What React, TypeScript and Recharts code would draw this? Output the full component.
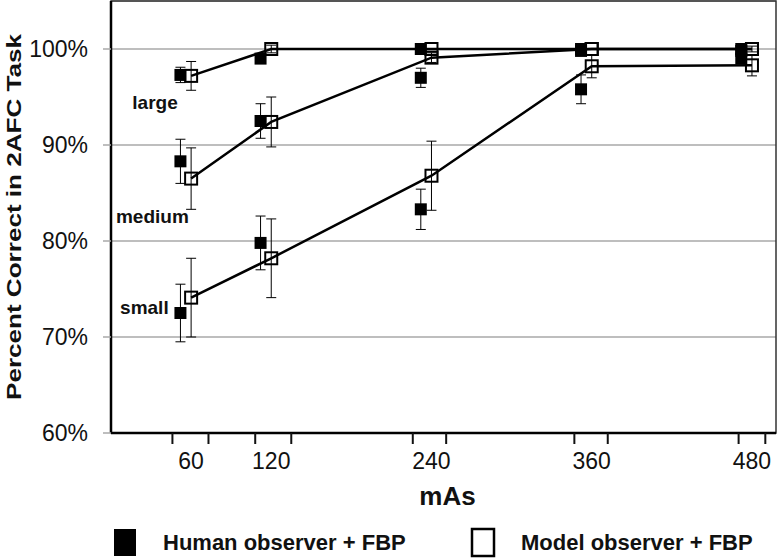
import React from "react";
import {
  CartesianGrid,
  ErrorBar,
  Label,
  ReferenceArea,
  ReferenceDot,
  Scatter,
  ScatterChart,
  XAxis,
  YAxis,
} from "recharts";

// exposure levels (mAs)
const mAs = [60, 120, 240, 360, 480];

// human observer + FBP, percent correct
const humanLarge = [97.3, 99.0, 100, 100, 100];
const humanMedium = [88.3, 92.5, 97.0, 99.8, 99.8];
const humanSmall = [72.5, 79.8, 83.3, 95.8, 99.0];
const humanErrLarge = [0.8, 0.3, 0, 0, 0];
const humanErrMedium = [2.3, 1.8, 1.0, 0, 0];
const humanErrSmall = [3.0, 2.8, 2.1, 1.5, 0.4];

// model observer + FBP, percent correct
const modelLarge = [97.2, 100, 100, 100, 100];
const modelMedium = [86.5, 92.4, 99.1, 100, 100];
const modelSmall = [74.1, 78.2, 86.8, 98.2, 98.3];
const modelErrLarge = [1.5, 0.4, 0, 0, 0.3];
const modelErrMedium = [3.2, 2.6, 0.5, 0, 0];
const modelErrSmall = [4.1, 4.1, 3.6, 1.2, 1.1];

const xLabelTicks = [60, 120, 240, 360, 480];
const xTickMarks = [46, 73, 108, 135, 226, 251, 347, 372, 470, 490];
const yTicks = [60, 70, 80, 90, 100];

const groupNames = ["large", "medium", "small"];
const groupNameX = [33, 31, 25];
const groupNameY = [94.5, 82.6, 73.1];

const legendItems = [
  { label: "Human observer + FBP", filled: true },
  { label: "Model observer + FBP", filled: false },
];

// human markers are drawn slightly left of the model markers
const HUMAN_SHIFT = -8;
const FONT = "'Liberation Sans', Arial, Helvetica, sans-serif";

const rows = (ys: number[], errs: number[], shift = 0) =>
  mAs.map((m, i) => ({ x: m + shift, y: ys[i], err: errs[i] || undefined }));

const humanSeries = [
  rows(humanLarge, humanErrLarge, HUMAN_SHIFT),
  rows(humanMedium, humanErrMedium, HUMAN_SHIFT),
  rows(humanSmall, humanErrSmall, HUMAN_SHIFT),
];
const modelSeries = [
  rows(modelLarge, modelErrLarge),
  rows(modelMedium, modelErrMedium),
  rows(modelSmall, modelErrSmall),
];

const allXTicks = [...xLabelTicks, ...xTickMarks].sort((a, b) => a - b);

function FilledSquare(props: any) {
  const { cx, cy } = props;
  return <rect x={cx - 6} y={cy - 6} width={12} height={12} fill="#000" />;
}

function OpenSquare(props: any) {
  const { cx, cy } = props;
  return (
    <rect x={cx - 6} y={cy - 6} width={12} height={12} fill="none" stroke="#000" strokeWidth={2} />
  );
}

function XTick(props: any) {
  const { x, y, payload } = props;
  const v = payload.value;
  if (xLabelTicks.includes(v)) {
    return (
      <text x={x} y={y + 20} dy="0.71em" textAnchor="middle" fontSize={23} fill="#111" fontFamily={FONT}>
        {v}
      </text>
    );
  }
  return <line x1={x} x2={x} y1={y} y2={y + 11} stroke="#111" strokeWidth={2} />;
}

export default function App() {
  return (
    <div style={{ position: "absolute", left: 0, top: 0, width: 780, height: 559, background: "#fff" }}>
      <ScatterChart width={780} height={559} margin={{ top: 1, right: 4, left: 0, bottom: 0 }}>
        <CartesianGrid vertical={false} stroke="#a8a8a8" strokeWidth={1.5} />
        <ReferenceArea
          x1={0}
          x2={498}
          y1={60}
          y2={105}
          fill="none"
          stroke="#333"
          strokeWidth={1.5}
          ifOverflow="visible"
        />
        <XAxis
          type="number"
          dataKey="x"
          domain={[0, 498]}
          ticks={allXTicks}
          interval={0}
          tick={<XTick />}
          tickLine={false}
          tickSize={0}
          tickMargin={0}
          height={126}
          axisLine={{ stroke: "#000", strokeWidth: 2.5 }}
          allowDataOverflow
        >
          <Label
            content={({ viewBox }: any) => (
              <text
                x={viewBox.x + viewBox.width / 2 + 4}
                y={viewBox.y + 72}
                textAnchor="middle"
                fontSize={26}
                fontWeight="bold"
                fill="#111"
                fontFamily={FONT}
              >
                mAs
              </text>
            )}
          />
        </XAxis>
        <YAxis
          type="number"
          dataKey="y"
          domain={[60, 105]}
          ticks={yTicks}
          interval={0}
          width={111}
          tickFormatter={(v) => `${v}%`}
          tick={{ fill: "#111", fontSize: 23, fontFamily: FONT }}
          tickLine={{ stroke: "#a8a8a8", strokeWidth: 1.5 }}
          tickSize={8}
          tickMargin={15}
          axisLine={{ stroke: "#000", strokeWidth: 2.5 }}
          allowDataOverflow
        >
          <Label
            content={({ viewBox }: any) => {
              const cx = 13;
              const cy = viewBox.y + viewBox.height / 2;
              return (
                <text
                  x={cx}
                  y={cy}
                  transform={`rotate(-90, ${cx}, ${cy})`}
                  textAnchor="middle"
                  dominantBaseline="central"
                  fontSize={21}
                  fontWeight="bold"
                  fill="#111"
                  fontFamily={FONT}
                  textLength={366}
                  lengthAdjust="spacingAndGlyphs"
                >
                  Percent Correct in 2AFC Task
                </text>
              );
            }}
          />
        </YAxis>
        {groupNames.map((name, i) => (
          <ReferenceDot key={name} x={groupNameX[i]} y={groupNameY[i]} r={0} fill="none" stroke="none">
            <Label
              value={name}
              position="center"
              fontSize={19}
              fontWeight="bold"
              fill="#111"
              fontFamily={FONT}
            />
          </ReferenceDot>
        ))}
        {humanSeries.map((data, i) => (
          <Scatter key={`h${i}`} data={data} shape={<FilledSquare />} isAnimationActive={false}>
            <ErrorBar dataKey="err" direction="y" width={5} stroke="#000" strokeWidth={1} />
          </Scatter>
        ))}
        {modelSeries.map((data, i) => (
          <Scatter
            key={`m${i}`}
            data={data}
            shape={<OpenSquare />}
            line={{ stroke: "#000", strokeWidth: 2.5 }}
            lineType="joint"
            isAnimationActive={false}
          >
            <ErrorBar dataKey="err" direction="y" width={5} stroke="#000" strokeWidth={1} />
          </Scatter>
        ))}
      </ScatterChart>
      <svg
        width={780}
        height={559}
        style={{ position: "absolute", left: 0, top: 0, pointerEvents: "none" }}
      >
        {legendItems.map((item, i) => {
          const mx = i === 0 ? 114 : 472;
          return (
            <g key={item.label}>
              <rect
                x={mx}
                y={529}
                width={22}
                height={27}
                fill={item.filled ? "#000" : "none"}
                stroke="#000"
                strokeWidth={item.filled ? 0 : 2.5}
              />
              <text
                x={mx + 49}
                y={542}
                dominantBaseline="central"
                fontSize={22}
                fontWeight="bold"
                fill="#111"
                fontFamily={FONT}
              >
                {item.label}
              </text>
            </g>
          );
        })}
      </svg>
    </div>
  );
}
